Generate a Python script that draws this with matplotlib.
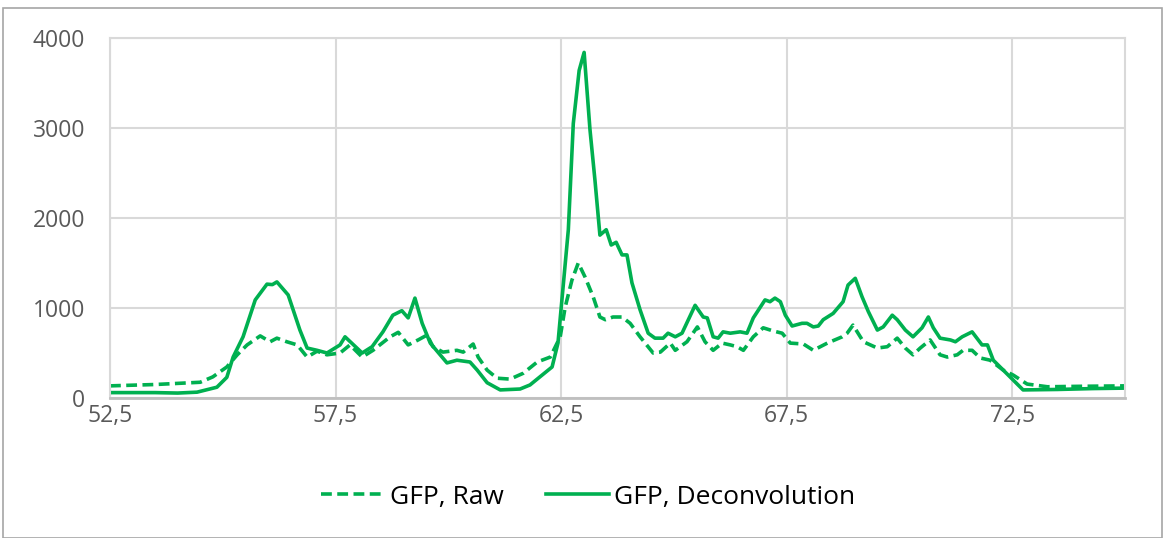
import matplotlib.pyplot as plt
from matplotlib.patches import Rectangle
from matplotlib.ticker import FuncFormatter

# wavelength-like axis positions and intensities
raw_x = [52.5, 53.5, 54.5, 54.78, 55.09, 55.32, 55.54, 55.83, 56.05, 56.2, 56.42,
         56.65, 56.87, 57.09, 57.31, 57.6, 57.82, 58.09, 58.33, 58.71, 58.89, 59.11,
         59.33, 59.53, 59.66, 59.88, 60.19, 60.33, 60.55, 60.66, 60.86, 61.08, 61.37,
         61.66, 61.97, 62.26, 62.48, 62.59, 62.74, 62.88, 63.03, 63.21, 63.36, 63.48,
         63.65, 63.85, 64.03, 64.25, 64.54, 64.7, 64.92, 65.03, 65.29, 65.52, 65.69,
         65.87, 66.07, 66.25, 66.4, 66.54, 66.76, 66.98, 67.2, 67.4, 67.58, 67.87,
         68.09, 68.4, 68.73, 68.84, 68.97, 69.2, 69.51, 69.73, 69.95, 70.13, 70.3,
         70.46, 70.68, 70.9, 71.06, 71.28, 71.41, 71.61, 71.79, 72.01, 72.3, 72.52,
         72.83, 73.28, 74.0, 75.0]
raw_y = [135, 150, 175, 235, 345, 480, 590, 690, 625, 665, 625,
         590, 455, 520, 480, 500, 590, 455, 530, 680, 730, 590,
         645, 700, 570, 510, 530, 510, 600, 455, 310, 220, 210,
         275, 400, 455, 680, 1010, 1310, 1500, 1345, 1125, 900, 870,
         900, 900, 830, 680, 500, 510, 610, 530, 625, 790, 625,
         530, 610, 590, 570, 530, 680, 780, 745, 720, 610, 600,
         530, 610, 680, 720, 810, 625, 555, 570, 665, 555, 480,
         555, 645, 480, 455, 480, 530, 530, 445, 420, 310, 255,
         155, 125, 130, 135]

dec_x = [52.5, 53.5, 54.0, 54.43, 54.87, 55.09, 55.23, 55.45, 55.72, 55.98, 56.1,
         56.2, 56.45, 56.71, 56.87, 57.09, 57.31, 57.6, 57.71, 58.09, 58.31, 58.55,
         58.77, 58.97, 59.11, 59.26, 59.42, 59.6, 59.97, 60.19, 60.48, 60.64, 60.86,
         61.15, 61.59, 61.81, 62.03, 62.3, 62.43, 62.66, 62.77, 62.9, 63.01, 63.14,
         63.25, 63.36, 63.5, 63.61, 63.72, 63.85, 63.96, 64.07, 64.25, 64.43, 64.58,
         64.76, 64.87, 65.03, 65.18, 65.47, 65.65, 65.74, 65.87, 65.98, 66.09, 66.25,
         66.47, 66.62, 66.76, 67.02, 67.13, 67.24, 67.36, 67.47, 67.62, 67.84, 67.95,
         68.09, 68.2, 68.31, 68.53, 68.75, 68.86, 69.02, 69.17, 69.31, 69.51, 69.64,
         69.84, 69.95, 70.13, 70.3, 70.5, 70.64, 70.75, 70.9, 71.13, 71.24, 71.39,
         71.61, 71.83, 71.95, 72.08, 72.74, 73.5, 74.3, 75.0]
dec_y = [60, 60, 55, 65, 120, 230, 455, 680, 1090, 1265, 1260,
         1290, 1145, 755, 555, 530, 500, 590, 680, 500, 570, 735,
         920, 970, 890, 1110, 830, 610, 390, 420, 400, 310, 170,
         90, 100, 145, 235, 345, 610, 1870, 3050, 3640, 3840, 2980,
         2420, 1810, 1870, 1700, 1730, 1590, 1590, 1280, 980, 720, 665,
         665, 720, 680, 720, 1030, 900, 890, 680, 665, 735, 720,
         735, 720, 890, 1090, 1070, 1110, 1070, 920, 800, 830, 830,
         790, 800, 870, 940, 1070, 1255, 1330, 1125, 960, 755, 790,
         920, 870, 755, 680, 780, 900, 780, 665, 645, 625, 680,
         735, 590, 590, 420, 90, 95, 105, 110]

x_ticks = [52.5, 57.5, 62.5, 67.5, 72.5]
y_ticks = [0, 1000, 2000, 3000, 4000]

GREEN = "#00b050"
GRID = "#d9d9d9"
TXT = "#595959"

plt.rcParams["font.family"] = ["Open Sans", "DejaVu Sans"]

fig = plt.figure(figsize=(11.65, 5.38), dpi=100)
fig.patches.append(Rectangle((0.003, 0.0), 0.994, 0.986, transform=fig.transFigure,
                             fill=False, edgecolor="#a6a6a6", linewidth=1.2))
ax = fig.add_axes([0.0944, 0.2602, 0.8713, 0.6692])

ax.plot(raw_x, raw_y, color=GREEN, lw=2.6, ls=(0, (3, 1.5)), label="GFP, Raw",
        solid_joinstyle="round")
ax.plot(dec_x, dec_y, color=GREEN, lw=2.6, label="GFP, Deconvolution",
        solid_joinstyle="round")

ax.set_xlim(52.5, 75)
ax.set_ylim(0, 4000)
ax.set_xticks(x_ticks)
ax.set_yticks(y_ticks)
ax.xaxis.set_major_formatter(FuncFormatter(lambda v, _: f"{v:.1f}".replace(".", ",")))
ax.grid(True, color=GRID, lw=1.5)
ax.set_axisbelow(True)
ax.tick_params(length=0, labelsize=16.5, colors=TXT)
ax.tick_params(axis="x", pad=4)
ax.tick_params(axis="y", pad=18)
for s in ("top", "right", "left"):
    ax.spines[s].set_color(GRID)
    ax.spines[s].set_linewidth(1.5)
ax.spines["bottom"].set_color("#bfbfbf")
ax.spines["bottom"].set_linewidth(2)

fig.legend(loc="center", bbox_to_anchor=(0.505, 0.076), ncol=2, frameon=False,
           fontsize=19, handlelength=2.4, handletextpad=0.2, columnspacing=1.6)

fig.savefig("out.png", dpi=100)
